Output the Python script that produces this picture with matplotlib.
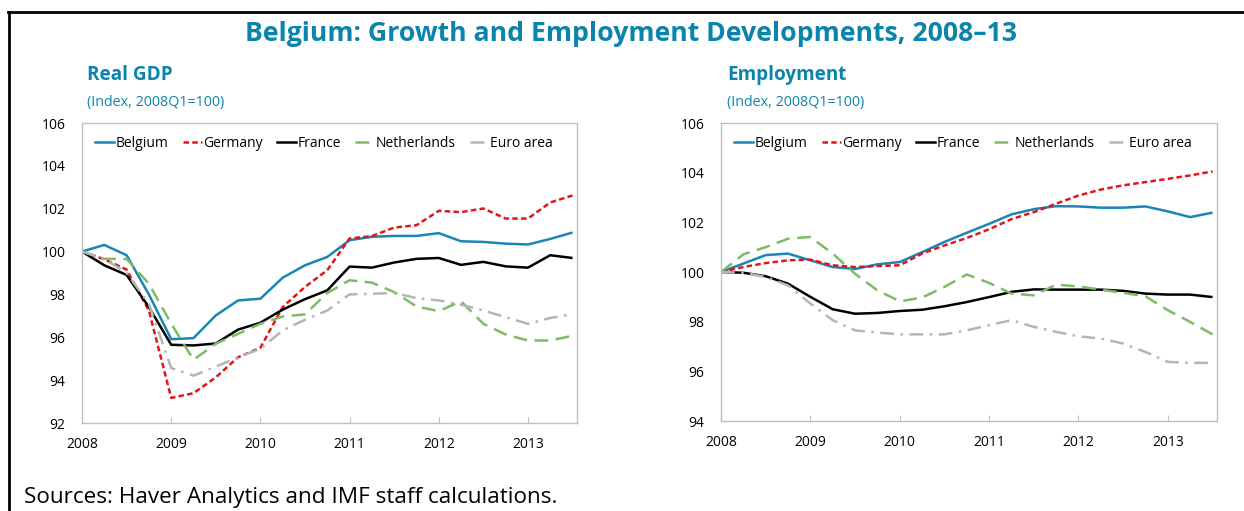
import matplotlib
matplotlib.use("Agg")
import matplotlib.pyplot as plt
from matplotlib.lines import Line2D

plt.rcParams['font.family'] = ['Open Sans', 'DejaVu Sans']

# Quarterly observations, 2008Q1 .. 2013Q3 (index 2008Q1 = 100)
quarters = list(range(23))
year_labels = ["2008", "2009", "2010", "2011", "2012", "2013"]
year_ticks = [0, 4, 8, 12, 16, 20]

series_names = ["Belgium", "Germany", "France", "Netherlands", "Euro area"]

gdp_belgium = [100.0, 100.31, 99.83, 98.0, 95.91, 95.96, 97.02, 97.72, 97.8, 98.78, 99.36, 99.75,
               100.53, 100.69, 100.73, 100.73, 100.86, 100.48, 100.45, 100.37, 100.33, 100.59, 100.89]
gdp_germany = [100.0, 99.64, 99.16, 97.25, 93.17, 93.39, 94.13, 95.07, 95.51, 97.41, 98.35, 99.13,
               100.61, 100.72, 101.12, 101.23, 101.9, 101.84, 102.01, 101.54, 101.54, 102.29, 102.62]
gdp_france = [100.0, 99.36, 98.91, 97.41, 95.65, 95.62, 95.71, 96.36, 96.68, 97.29, 97.78, 98.19,
              99.3, 99.25, 99.49, 99.66, 99.7, 99.38, 99.52, 99.31, 99.25, 99.83, 99.7]
gdp_netherlands = [100.0, 99.66, 99.66, 98.5, 96.63, 94.95, 95.7, 96.16, 96.63, 96.97, 97.07, 98.07,
                   98.66, 98.55, 98.11, 97.44, 97.22, 97.68, 96.63, 96.13, 95.85, 95.85, 96.07]
gdp_euro_area = [100.0, 99.67, 99.0, 97.56, 94.57, 94.21, 94.63, 95.07, 95.46, 96.32, 96.82, 97.25,
                 98.0, 98.03, 98.07, 97.83, 97.72, 97.52, 97.25, 96.94, 96.63, 96.9, 97.07]

emp_belgium = [100.0, 100.34, 100.68, 100.74, 100.47, 100.2, 100.12, 100.31, 100.4, 100.8, 101.21, 101.58,
               101.94, 102.32, 102.53, 102.65, 102.64, 102.59, 102.59, 102.64, 102.44, 102.21, 102.39]
emp_germany = [100.0, 100.2, 100.36, 100.47, 100.5, 100.27, 100.2, 100.24, 100.27, 100.74, 101.07, 101.37,
               101.72, 102.13, 102.41, 102.75, 103.08, 103.32, 103.49, 103.62, 103.75, 103.89, 104.05]
emp_france = [100.0, 99.97, 99.83, 99.53, 99.0, 98.5, 98.32, 98.35, 98.43, 98.48, 98.62, 98.79,
              98.99, 99.2, 99.3, 99.29, 99.29, 99.29, 99.24, 99.13, 99.09, 99.09, 98.99]
emp_netherlands = [100.0, 100.71, 101.0, 101.34, 101.41, 100.74, 99.93, 99.26, 98.82, 98.97, 99.4, 99.9,
                   99.56, 99.13, 99.06, 99.49, 99.42, 99.29, 99.16, 99.02, 98.46, 97.99, 97.49]
emp_euro_area = [100.0, 99.97, 99.8, 99.46, 98.73, 98.06, 97.65, 97.56, 97.49, 97.49, 97.49, 97.65,
                 97.86, 98.06, 97.79, 97.59, 97.41, 97.32, 97.12, 96.78, 96.38, 96.34, 96.34]

BLUE_TITLE = "#0b84ad"
styles = {
    "Belgium":     dict(color="#1b86b6", linestyle="-"),
    "Germany":     dict(color="#e3151b", linestyle=(0, (2.2, 1.3))),
    "France":      dict(color="#000000", linestyle="-"),
    "Netherlands": dict(color="#7dbb66", linestyle=(0, (5.5, 3.0))),
    "Euro area":   dict(color="#b5b5b5", linestyle=(0, (5.5, 2.6, 1.0, 2.6))),
}
LW = 1.8

W, H = 1244, 511
fig = plt.figure(figsize=(W / 100, H / 100), dpi=100)


def px_axes(left, top, right, bottom):
    return fig.add_axes([left / W, 1 - bottom / H, (right - left) / W, (bottom - top) / H])


def draw_panel(ax, data, ylim, yticks):
    for name, values in zip(series_names, data):
        ax.plot(quarters, values, lw=LW, solid_capstyle="butt", dash_capstyle="butt",
                **styles[name])
    ax.set_xlim(0, 22.2)
    ax.set_ylim(*ylim)
    ax.set_yticks(yticks)
    ax.set_yticklabels([str(v) for v in yticks], fontsize=10)
    ax.set_xticks(year_ticks)
    ax.set_xticklabels(year_labels, fontsize=10)
    for s in ax.spines.values():
        s.set_color("#c0c0c0")
        s.set_linewidth(1.0)
    ax.tick_params(axis="x", direction="in", length=4, color="#c0c0c0", pad=10)
    ax.tick_params(axis="y", length=0, pad=12)
    handles = [Line2D([], [], lw=LW, **styles[n]) for n in series_names]
    leg = ax.legend(handles, series_names, loc="upper left", ncol=5, frameon=False,
                    fontsize=10, handlelength=1.35, handletextpad=0.1, columnspacing=1.05,
                    bbox_to_anchor=(0.0, 1.0), borderaxespad=0.55)
    return leg


ax1 = px_axes(82, 123, 577, 423)
draw_panel(ax1, [gdp_belgium, gdp_germany, gdp_france, gdp_netherlands, gdp_euro_area],
           (92, 106), [92, 94, 96, 98, 100, 102, 104, 106])

ax2 = px_axes(721, 123, 1217, 421)
draw_panel(ax2, [emp_belgium, emp_germany, emp_france, emp_netherlands, emp_euro_area],
           (94, 106), [94, 96, 98, 100, 102, 104, 106])

# Titles and notes
fig.text(631 / W, 1 - 41 / H, "Belgium: Growth and Employment Developments, 2008\u201313",
         ha="center", va="baseline", fontsize=19.2, fontweight="bold", color=BLUE_TITLE)
fig.text(87 / W, 1 - 80 / H, "Real GDP", ha="left", va="baseline", fontsize=13.6,
         fontweight="bold", color=BLUE_TITLE)
fig.text(727 / W, 1 - 80 / H, "Employment", ha="left", va="baseline", fontsize=13.6,
         fontweight="bold", color=BLUE_TITLE)
fig.text(87 / W, 1 - 106 / H, "(Index, 2008Q1=100)", ha="left", va="baseline", fontsize=10.3,
         color=BLUE_TITLE)
fig.text(727 / W, 1 - 106 / H, "(Index, 2008Q1=100)", ha="left", va="baseline", fontsize=10.3,
         color=BLUE_TITLE)
fig.text(24 / W, 1 - 503 / H, "Sources: Haver Analytics and IMF staff calculations.",
         ha="left", va="baseline", fontsize=16.2, color="#000000")

# Frame lines along the top and left edge
fig.add_artist(Line2D([8 / W, 1.0], [1 - 12.5 / H, 1 - 12.5 / H], color="black", lw=2.0,
                      transform=fig.transFigure))
fig.add_artist(Line2D([8.5 / W, 8.5 / W], [0.0, 1 - 12 / H], color="black", lw=2.0,
                      transform=fig.transFigure))

fig.savefig("out.png", dpi=100)
